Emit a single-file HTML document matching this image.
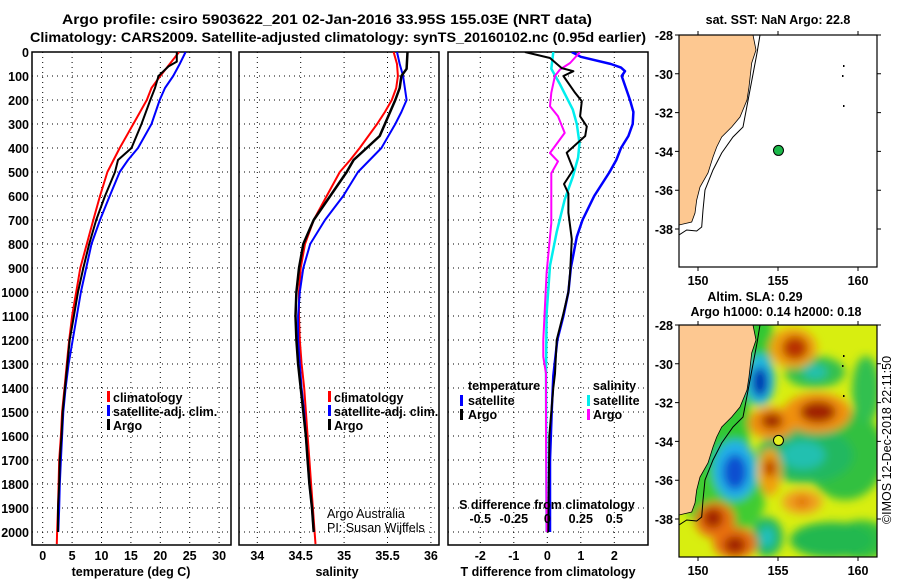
<!DOCTYPE html>
<html><head><meta charset="utf-8">
<style>
html,body{margin:0;padding:0;background:#fff;}
svg{display:block;font-family:"Liberation Sans",Arial,sans-serif;}
.b{font-weight:bold;font-size:12.5px;fill:#000;}
.n{font-size:12.5px;fill:#000;}
.t{font-weight:bold;font-size:14px;fill:#000;}
</style></head>
<body>
<svg id="fig" width="900" height="580" viewBox="0 0 900 580" xmlns="http://www.w3.org/2000/svg">
<defs>
<clipPath id="c1"><rect x="32" y="52" width="199" height="493"/></clipPath>
<clipPath id="c2"><rect x="239" y="52" width="200" height="493"/></clipPath>
<clipPath id="c3"><rect x="448" y="52" width="200" height="493"/></clipPath>
<clipPath id="cm1"><rect x="679" y="35" width="198" height="232"/></clipPath>
<clipPath id="cm2"><rect x="679" y="325" width="198" height="232"/></clipPath>
<filter id="blur" x="-20%" y="-20%" width="140%" height="140%"><feGaussianBlur stdDeviation="4.5"/></filter>
</defs>
<text class="t" x="62" y="24" textLength="530" lengthAdjust="spacingAndGlyphs">Argo profile: csiro 5903622_201 02-Jan-2016 33.95S 155.03E (NRT data)</text>
<text class="t" x="30" y="42" textLength="616" lengthAdjust="spacingAndGlyphs">Climatology: CARS2009. Satellite-adjusted climatology: synTS_20160102.nc (0.95d earlier)</text>
<g id="g"></g>
</svg>
<script>
// ---------- data ----------
var tDepth = [0,50,100,150,200,300,400,500,600,700,800,900,1000,1100,1200,1300,1400,1500,1600,1700,1800,1900,2000,2050];
var tClim  = [23.2,21.6,20.0,18.5,17.7,15.4,13.1,11.0,9.75,8.6,7.5,6.4,5.7,5.0,4.5,4.1,3.7,3.3,3.1,2.8,2.7,2.6,2.45,2.4];
var tSatDepth = [0,50,100,150,200,300,400,450,500,600,700,800,900,1000,1100,1200,1300,1400,1500,1600,1700,1800,1900,2000];
var tSat   = [24.3,23.3,22.2,20.8,19.9,18.5,16.2,14.5,13.1,11.4,9.75,8.3,7.4,6.5,5.8,5.1,4.4,3.9,3.5,3.3,3.1,2.9,2.8,2.65];
var tArgoDepth = [0,40,60,100,150,200,300,400,450,500,600,700,800,900,1000,1100,1200,1300,1400,1500,1600,1700,1800,1900,2000];
var tArgo  = [22.8,22.8,21.4,19.7,19.1,18.3,16.8,15.1,12.8,12.3,10.6,9.1,7.9,6.9,6.0,5.3,4.6,4.2,3.8,3.4,3.2,2.9,2.8,2.6,2.6];

var sDepth = [0,50,100,150,200,250,300,400,450,500,600,700,800,900,1000,1100,1200,1300,1400,1500,1600,1700,1800,1900,2000,2050];
var sClim  = [35.57,35.61,35.62,35.60,35.55,35.47,35.38,35.18,35.07,34.95,34.80,34.65,34.55,34.50,34.48,34.48,34.49,34.51,34.54,34.56,34.58,34.60,34.62,34.64,34.66,34.67];
var sSatDepth = [0,50,100,200,250,300,400,500,600,700,800,900,1000,1100,1200,1300,1400,1500,1600,1700,1800,1900,2000];
var sSat   = [35.61,35.64,35.68,35.72,35.66,35.59,35.43,35.16,34.99,34.78,34.61,34.53,34.49,34.47,34.47,34.49,34.51,34.54,34.56,34.58,34.60,34.63,34.65];
var sArgoDepth = [0,70,100,150,200,250,300,350,400,450,500,600,700,800,900,1000,1100,1200,1300,1400,1500,1600,1700,1800,1900,2000];
var sArgo  = [35.73,35.72,35.66,35.64,35.59,35.53,35.47,35.41,35.26,35.11,35.03,34.84,34.65,34.53,34.48,34.45,34.44,34.45,34.47,34.50,34.53,34.56,34.58,34.60,34.63,34.65];

var dTSatDepth = [0,20,50,65,80,100,200,250,300,350,400,450,500,600,700,770,900,1000,1100,1200,1350,1500,1700,2000];
var dTSat  = [0.73,1.0,1.9,2.2,2.32,2.22,2.47,2.57,2.55,2.42,2.2,2.06,1.86,1.4,1.05,0.88,0.7,0.63,0.48,0.3,0.18,0.13,0.08,0.08];
var dTArgoDepth = [0,25,67,80,100,170,205,268,310,350,420,490,550,590,670,780,920,1000,1090,1200,1340,1400,1600,2000];
var dTArgo = [-0.67,0.08,0.43,0.78,0.48,0.83,1.03,0.98,1.18,1.13,0.58,0.78,0.5,0.63,0.63,0.73,0.68,0.63,0.48,0.28,0.23,0.18,0.06,0.03];
var dSSatDepth = [0,70,130,240,300,380,440,520,615,750,890,1090,1340,2000];
var dSSat  = [0.045,0.03,0.09,0.19,0.22,0.24,0.23,0.19,0.13,0.07,0.02,-0.005,-0.01,-0.005];
var dSArgoDepth = [0,46,73,100,170,226,268,337,421,456,505,713,920,1200,1270,1340,1600,2000];
var dSArgo = [0.245,0.17,0.095,0.057,0.03,0.02,0.08,0.13,0.02,0.08,0.03,0.03,-0.005,-0.03,-0.03,-0.01,-0.01,-0.005];

var depthTicks = [0,100,200,300,400,500,600,700,800,900,1000,1100,1200,1300,1400,1500,1600,1700,1800,1900,2000];
var tTicks = [0,5,10,15,20,25,30];
var sTicks = [34,34.5,35,35.5,36];
var dTTicks = [-2,-1,0,1,2];
var dSTicks = [-0.5,-0.25,0,0.25,0.5];
var dSTickLabels = ['-0.5','-0.25','0','0.25','0.5'];
var lonTicks = [150,155,160];
var latTicks = [-28,-30,-32,-34,-36,-38];
var argoLon = 155.03, argoLat = -33.95;

// ---------- scales ----------
function yD(d){return 52 + d*0.24;}
function xT(t){return 42.7 + t*5.88;}
function xS(s){return 257.3 + (s-34)*86.8;}
function xDT(v){return 547.3 + v*33.5;}
function xDS(v){return xDT(v*4);}
function mLon(l){return 778 + (l-155)*16;}
function mLat(a,top){return top + (-28-a)*19.4;}

var NS='http://www.w3.org/2000/svg';
var G=document.getElementById('g');
function mk(tag,attrs,parent,txt){var e=document.createElementNS(NS,tag);for(var k in attrs)e.setAttribute(k,attrs[k]);if(txt!==undefined)e.textContent=txt;(parent||G).appendChild(e);return e;}

function panel(x0,x1,clipId,name,xs,ticks,labels){
  var g=mk('g',{});
  
  
  for(var i=0;i<depthTicks.length;i++){
    var y=yD(depthTicks[i]);
    var l=mk('line',{x1:x0,x2:x1,y1:y,y2:y,stroke:'#000','stroke-width':1,'stroke-dasharray':'1 4'},g);
    
    
  }
  for(var j=0;j<ticks.length;j++){
    var x=xs(ticks[j]);
    var v=mk('line',{x1:x,x2:x,y1:52,y2:545,stroke:'#000','stroke-width':1,'stroke-dasharray':'1 4'},g);
    
    
    if(labels){
      var t=mk('text',{x:x,y:560,'text-anchor':'middle','class':'b'},g,labels[j]);
      
      
    }
  }
  var r=mk('rect',{x:x0,y:52,width:x1-x0,height:493,fill:'none',stroke:'#000','stroke-width':1.5},g);
  
  
  var cg=mk('g',{'clip-path':'url(#'+clipId+')'},g);
  return cg;
}
function line(parent,depths,vals,xs,color,w,name){
  var p='';
  for(var i=0;i<depths.length;i++){p+=(i?'L':'M')+xs(vals[i]).toFixed(1)+','+yD(depths[i]).toFixed(1);}
  var e=mk('path',{d:p,fill:'none',stroke:color,'stroke-width':w,'stroke-linejoin':'round'},parent);
  
  
}
function txt(x,y,s,cls,anchor,name){
  var e=mk('text',{x:x,y:y,'class':cls||'b','text-anchor':anchor||'start'},G,s);
  
  
  return e;
}
function legMark(x,y,color,name){
  var e=mk('rect',{x:x,y:y-10,width:3,height:11,fill:color});
  
  
}

// depth labels
for(var i=0;i<depthTicks.length;i++){
  txt(29,yD(depthTicks[i])+5,String(depthTicks[i]),'b','end','depth-tick-label');
}

// panel 1
var p1=panel(32,231,'c1','temperature-panel',xT,tTicks,tTicks.map(String));
line(p1,tDepth,tClim,xT,'#ff0000',2,'temp-climatology-line');
line(p1,tSatDepth,tSat,xT,'#0000ff',2,'temp-satellite-line');
line(p1,tArgoDepth,tArgo,xT,'#000000',2,'temp-argo-line');
txt(131,576,'temperature (deg C)','b','middle','temperature-axis-title');
legMark(107,401,'#ff0000','legend-climatology-marker'); txt(113,402,'climatology','b','start','legend-climatology');
legMark(107,415,'#0000ff','legend-satellite-marker'); txt(113,416,'satellite-adj. clim.','b','start','legend-satellite');
legMark(107,429,'#000000','legend-argo-marker'); txt(113,430,'Argo','b','start','legend-argo');

// panel 2
var p2=panel(239,439,'c2','salinity-panel',xS,sTicks,sTicks.map(String));
line(p2,sDepth,sClim,xS,'#ff0000',2,'sal-climatology-line');
line(p2,sSatDepth,sSat,xS,'#0000ff',2,'sal-satellite-line');
line(p2,sArgoDepth,sArgo,xS,'#000000',2.5,'sal-argo-line');
txt(337,576,'salinity','b','middle','salinity-axis-title');
legMark(328,401,'#ff0000','legend2-climatology-marker'); txt(334,402,'climatology','b','start','legend2-climatology');
legMark(328,415,'#0000ff','legend2-satellite-marker'); txt(334,416,'satellite-adj. clim.','b','start','legend2-satellite');
legMark(328,429,'#000000','legend2-argo-marker'); txt(334,430,'Argo','b','start','legend2-argo');
txt(327,518,'Argo Australia','n','start','credit-argo-australia');
txt(327,532,'PI: Susan Wijffels','n','start','credit-pi');

// panel 3
var p3=panel(448,648,'c3','difference-panel',xDT,dTTicks,dTTicks.map(String));
line(p3,dTSatDepth,dTSat,xDT,'#0000ff',2.5,'dt-satellite-line');
line(p3,dSSatDepth,dSSat,xDS,'#00eeee',2.5,'ds-satellite-line');
line(p3,dSArgoDepth,dSArgo,xDS,'#ff00ff',2,'ds-argo-line');
line(p3,dTArgoDepth,dTArgo,xDT,'#000000',2,'dt-argo-line');
for(var k=0;k<dSTicks.length;k++){ txt(xDS(dSTicks[k]),523,dSTickLabels[k],'b','middle','s-diff-tick-label'); }
txt(547,509,'S difference from climatology','b','middle','s-diff-axis-title');
txt(548,576,'T difference from climatology','b','middle','t-diff-axis-title');
txt(468,390,'temperature','b','start','legend3-temperature-header');
legMark(460,405,'#0000ff','legend3-tsat-marker'); txt(468,405,'satellite','b','start','legend3-tsat');
legMark(460,419,'#000000','legend3-targo-marker'); txt(468,419,'Argo','b','start','legend3-targo');
txt(593,390,'salinity','b','start','legend3-salinity-header');
legMark(587,405,'#00eeee','legend3-ssat-marker'); txt(593,405,'satellite','b','start','legend3-ssat');
legMark(587,419,'#ff00ff','legend3-sargo-marker'); txt(593,419,'Argo','b','start','legend3-sargo');

// ---------- maps ----------
var coast=[[753,35],[756,50],[751.7,63],[749,87],[747,100],[740,117],[731.7,127],[721.7,137],[716.7,147],[713,157],[708,173],[700,187],[696.7,200],[695,213],[691.7,222],[679,225]];
var iso=[[760,35],[757,53],[750,90],[743,127],[733,137],[721.7,153],[713,170],[705,190],[703,210],[701.7,227],[696.7,231],[686.7,230],[679,235]];
function pts(a,dy){return a.map(function(p){return p[0]+','+(p[1]+dy);}).join(' ');}
function mapFrame(top,clip,name,bg){
  var g=mk('g',{'clip-path':'url(#'+clip+')'});
  
  
  var b=mk('rect',{x:679,y:top,width:198,height:232,fill:bg},g);
  
  
  return g;
}
function mapDecor(g,top){
  var dy=top-35;
  var land=mk('polygon',{points:'679,'+(35+dy)+' '+pts(coast,dy),fill:'#fdc891',stroke:'#000','stroke-width':0.8},g);
  
  
  var iv=mk('polyline',{points:pts(iso,dy),fill:'none',stroke:'#000','stroke-width':1},g);
  
  
  var isl=[[843,65],[842,75],[843,105]];
  for(var i=0;i<isl.length;i++){
    var d=mk('rect',{x:isl[i][0],y:isl[i][1]+dy,width:1.5,height:2,fill:'#000'},g);
    
    
  }
}
function mapAxes(top){
  var fr=mk('rect',{x:679,y:top,width:198,height:232,fill:'none',stroke:'#000','stroke-width':1.2});
  
  
  for(var i=0;i<lonTicks.length;i++){
    var x=mLon(lonTicks[i]);
    var a=mk('path',{d:'M'+x+','+top+'v-4M'+x+','+(top+232)+'v4',stroke:'#000'});
    
    
    txt(x,top+250,String(lonTicks[i]),'b','middle','lon-tick-label');
  }
  for(var j=0;j<latTicks.length;j++){
    var y=mLat(latTicks[j],top);
    var b=mk('path',{d:'M679,'+y+'h-4M877,'+y+'h4',stroke:'#000'});
    
    
    txt(673,y+5,String(latTicks[j]),'b','end','lat-tick-label');
  }
}
// top map
var m1=mapFrame(35,'cm1','sst-map','#ffffff');
mapDecor(m1,35);
var dot=mk('circle',{cx:mLon(argoLon),cy:mLat(argoLat,35),r:5,fill:'#1cb84a',stroke:'#000','stroke-width':1});


mapAxes(35);
txt(778,24,'sat. SST: NaN Argo: 22.8','b','middle','sst-map-title');

// bottom map (SLA field)
var m2=mapFrame(325,'cm2','sla-map','#d8ee10');
var blobLayer=mk('g',{filter:'url(#blur)'},m2);


var blobs=[
 [712,420,38,110,'#30c830'],[760,340,14,30,'#30c830'],[725,500,40,35,'#40cc30'],
 [845,455,40,45,'#30c040'],[805,455,48,28,'#20b860'],[803,455,22,14,'#20c0b0'],
 [815,372,30,16,'#30c050'],[815,372,12,7,'#20c0b0'],
 [866,390,14,34,'#30c050'],[862,540,28,20,'#30c040'],[832,540,42,18,'#20b850'],[767,537,16,20,'#20b860'],[767,537,7,10,'#20c0c0'],
 [760,380,15,26,'#20b8e0'],[760,382,8,15,'#0030b0'],
 [735,470,22,30,'#20b0e8'],[735,472,12,18,'#1050d0'],
 [793,348,24,20,'#f0a010'],[795,348,13,12,'#b83000'],
 [817,413,34,20,'#f09010'],[818,412,18,11,'#a02000'],
 [772,423,24,16,'#f09010'],[772,421,11,8,'#a02800'],
 [770,472,11,24,'#f0a010'],[770,468,6,9,'#b83800'],
 [802,502,20,12,'#f0a020'],[802,502,8,5,'#e07000'],
 [715,520,20,18,'#e87010'],[713,518,10,10,'#a02000'],[735,543,22,16,'#e87010'],[735,545,11,9,'#a02000']
];
for(var b=0;b<blobs.length;b++){
  var e=mk('ellipse',{cx:blobs[b][0],cy:blobs[b][1],rx:blobs[b][2],ry:blobs[b][3],fill:blobs[b][4]},blobLayer);
  
  
}
mapDecor(m2,325);
var dot2=mk('circle',{cx:mLon(argoLon),cy:mLat(argoLat,325),r:5,fill:'#e4f020',stroke:'#000','stroke-width':1});


mapAxes(325);
txt(755,301,'Altim. SLA: 0.29','b','middle','sla-map-title');
txt(776,316,'Argo h1000: 0.14 h2000: 0.18','b','middle','sla-map-subtitle');
var cp=txt(0,0,'\u00a9IMOS 12-Dec-2018 22:11:50','n','middle','copyright-stamp');
cp.setAttribute('transform','translate(891,440) rotate(-90)');
</script>
</body></html>
